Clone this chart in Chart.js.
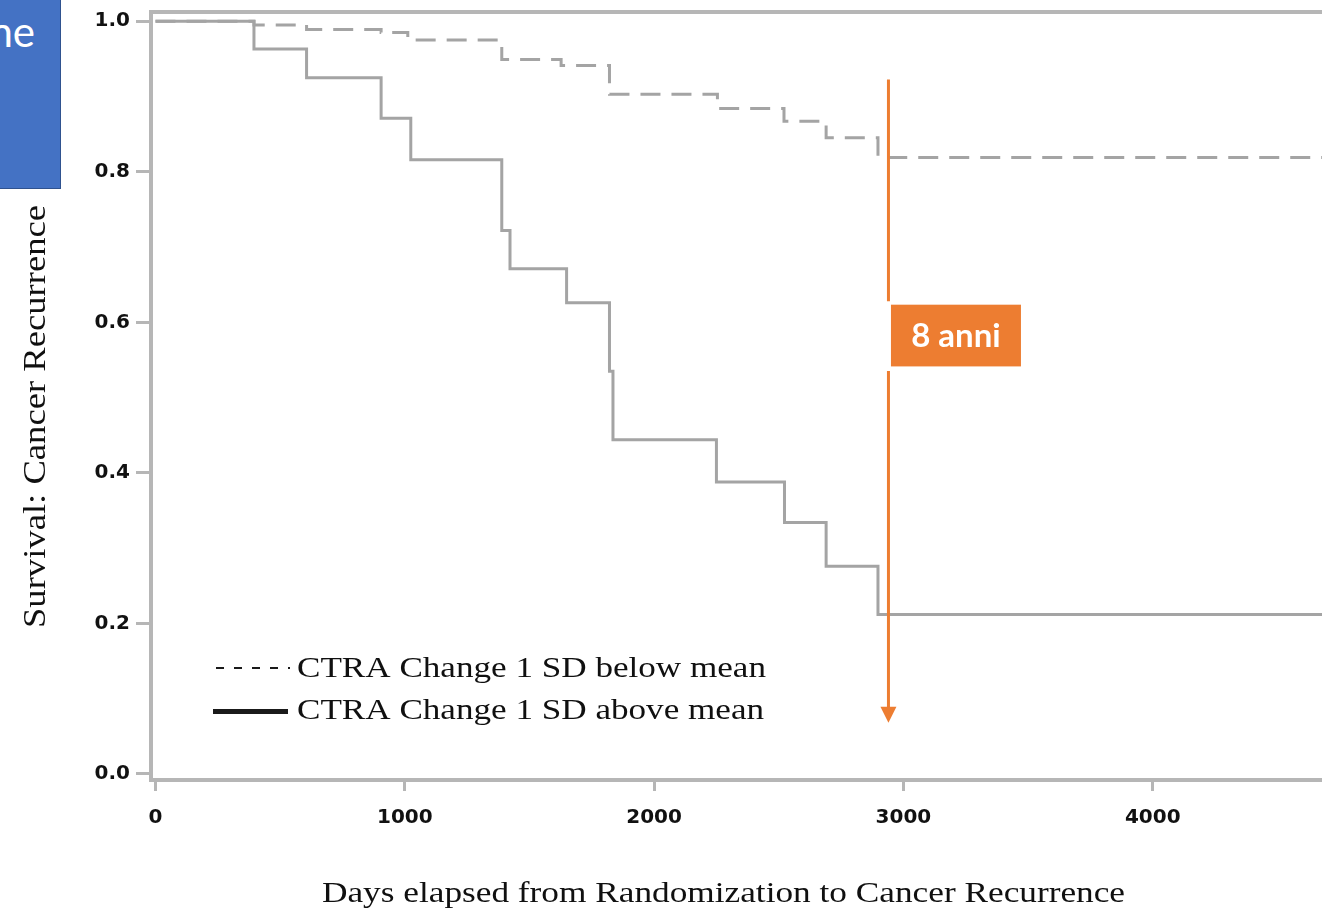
<!DOCTYPE html>
<html>
<head>
<meta charset="utf-8">
<script src="https://cdn.jsdelivr.net/npm/chart.js@4.4.1/dist/chart.umd.min.js"></script>
<style>
  html, body { margin: 0; padding: 0; background: #ffffff; overflow: hidden; }
  #wrap { position: relative; width: 1322px; height: 912px; }
  #km { position: absolute; left: 0; top: 0; }
  #tag {
    position: absolute; left: -2px; top: -2px; width: 62px; height: 190px;
    background: #4472C4; border-right: 1.5px solid #2F528F; border-bottom: 1.5px solid #2F528F;
    overflow: hidden; z-index: 2;
  }
  #tag span {
    position: absolute; right: 25px; top: 12px; color: #ffffff;
    font: 42px/1 Lato, "Open Sans", sans-serif; white-space: nowrap;
  }
</style>
</head>
<body>
<div id="wrap">
  <div id="tag"><span>ne</span></div>
  <canvas id="km" width="1322" height="912"></canvas>
</div>
<script>
// Kaplan-Meier estimates: day of each step and the survival level from that day on
const belowMeanDays     = [0, 395, 606, 905, 1012, 1389, 1627, 1821, 2254, 2521, 2690, 2898, 4700];
const belowMeanSurvival = [1.0, 0.995, 0.989, 0.985, 0.975, 0.949, 0.941, 0.903, 0.884, 0.867, 0.845, 0.819, 0.819];

const aboveMeanDays     = [0, 395, 606, 905, 1024, 1389, 1422, 1649, 1821, 1835, 2250, 2523, 2690, 2898, 4700];
const aboveMeanSurvival = [1.0, 0.963, 0.925, 0.871, 0.816, 0.722, 0.671, 0.626, 0.535, 0.444, 0.388, 0.334, 0.276, 0.212, 0.212];

const seriesLabels = ['CTRA Change 1 SD below mean', 'CTRA Change 1 SD above mean'];

const xTickValues = [0, 1000, 2000, 3000, 4000];
const yTickValues = [0, 0.2, 0.4, 0.6, 0.8, 1.0];

const xTitle = 'Days elapsed from Randomization to Cancer Recurrence';
const yTitle = 'Survival: Cancer Recurrence';

// eight-year marker
const markerDay = 2940;
const markerLabel = '8 anni';

const AXIS_GREY = '#b6b6b6';
const CURVE_GREY = '#a4a4a4';
const ORANGE = '#ED7D31';
const SERIF = '"Liberation Serif", serif';

function toPoints(xs, ys) {
  return xs.map((x, i) => ({ x: x, y: ys[i] }));
}

// draws text horizontally scaled to a given width
function fitText(ctx, text, x, y, width, align) {
  const w = ctx.measureText(text).width;
  ctx.save();
  ctx.translate(x, y);
  ctx.scale(width / w, 1);
  ctx.textAlign = align;
  ctx.fillText(text, 0, 0);
  ctx.restore();
}

const titlesAndLegend = {
  id: 'titlesAndLegend',
  afterDraw(chart) {
    const ctx = chart.ctx;
    ctx.save();
    ctx.fillStyle = '#101010';
    ctx.textBaseline = 'alphabetic';

    // x-axis title
    ctx.font = '30px ' + SERIF;
    fitText(ctx, xTitle, 723.5, 902, 803, 'center');

    // y-axis title, rotated
    ctx.save();
    ctx.translate(45, 416.5);
    ctx.rotate(-Math.PI / 2);
    ctx.font = '32px ' + SERIF;
    fitText(ctx, yTitle, 0, 0, 423, 'center');
    ctx.restore();

    // legend inside the plot
    ctx.font = '29px ' + SERIF;
    const sx = 469 / ctx.measureText(seriesLabels[0]).width;
    const rows = [677, 718.5];
    chart.data.datasets.forEach((ds, i) => {
      const base = rows[i];
      const mid = base - 5;
      ctx.save();
      ctx.strokeStyle = '#1a1a1a';
      ctx.beginPath();
      if (ds.borderDash && ds.borderDash.length) {
        ctx.lineWidth = 2;
        ctx.setLineDash([8, 10]);
        ctx.moveTo(216, mid - 4);
        ctx.lineTo(290, mid - 4);
      } else {
        ctx.lineWidth = 5;
        ctx.moveTo(213, mid - 2);
        ctx.lineTo(288, mid - 2);
      }
      ctx.stroke();
      ctx.restore();
      ctx.save();
      ctx.translate(297, base);
      ctx.scale(sx, 1);
      ctx.textAlign = 'left';
      ctx.fillText(ds.label, 0, 0);
      ctx.restore();
    });
    ctx.restore();
  }
};

const eightYearMarker = {
  id: 'eightYearMarker',
  afterDatasetsDraw(chart) {
    const ctx = chart.ctx;
    const xs = chart.scales.x, ys = chart.scales.y;
    const px = xs.getPixelForValue(markerDay);
    const top = ys.getPixelForValue(0.9225);
    const tip = ys.getPixelForValue(0.068);
    const boxTop = ys.getPixelForValue(0.6234);
    const boxBottom = ys.getPixelForValue(0.5414);
    const head = 16;

    ctx.save();
    ctx.strokeStyle = ORANGE;
    ctx.fillStyle = ORANGE;
    ctx.lineWidth = 3;
    ctx.beginPath();
    ctx.moveTo(px, top);
    ctx.lineTo(px, boxTop - 3.5);
    ctx.moveTo(px, boxBottom + 4.5);
    ctx.lineTo(px, tip - head + 1);
    ctx.stroke();

    ctx.beginPath();
    ctx.moveTo(px - 8, tip - head);
    ctx.lineTo(px + 8, tip - head);
    ctx.lineTo(px, tip);
    ctx.closePath();
    ctx.fill();

    const boxLeft = px + 2.5;
    const boxWidth = 130;
    ctx.fillRect(boxLeft, boxTop, boxWidth, boxBottom - boxTop);
    ctx.fillStyle = '#ffffff';
    ctx.font = 'bold 33px Lato, "Open Sans", sans-serif';
    ctx.textAlign = 'center';
    ctx.textBaseline = 'middle';
    ctx.fillText(markerLabel, boxLeft + boxWidth / 2, (boxTop + boxBottom) / 2 + 1);
    ctx.restore();
  }
};

const tickFont = { family: '"DejaVu Sans", sans-serif', size: 20, weight: 'bold' };

new Chart(document.getElementById('km'), {
  type: 'line',
  data: {
    datasets: [
      {
        label: seriesLabels[0],
        data: toPoints(belowMeanDays, belowMeanSurvival),
        borderColor: CURVE_GREY,
        borderWidth: 3,
        borderDash: [20, 11],
        stepped: 'before',
        pointRadius: 0,
        fill: false
      },
      {
        label: seriesLabels[1],
        data: toPoints(aboveMeanDays, aboveMeanSurvival),
        borderColor: CURVE_GREY,
        borderWidth: 3,
        stepped: 'before',
        pointRadius: 0,
        fill: false
      }
    ]
  },
  options: {
    responsive: false,
    animation: false,
    events: [],
    layout: { autoPadding: false, padding: 0 },
    plugins: { legend: { display: false }, tooltip: { enabled: false } },
    scales: {
      x: {
        type: 'linear',
        position: 'bottom',
        min: -18,
        max: 4679,
        afterBuildTicks: s => { s.ticks = xTickValues.map(v => ({ value: v })); },
        afterFit: s => { s.height = 132; s.paddingLeft = 0; s.paddingRight = 0; },
        ticks: {
          font: tickFont, color: '#111111', padding: 15,
          maxRotation: 0, autoSkip: false,
          callback: v => String(v)
        },
        grid: { drawOnChartArea: false, drawTicks: true, tickLength: 11, tickWidth: 3, tickColor: AXIS_GREY },
        border: { display: true, color: AXIS_GREY, width: 4 }
      },
      xTop: {
        type: 'linear',
        position: 'top',
        min: -18,
        max: 4679,
        afterFit: s => { s.height = 12; s.paddingLeft = 0; s.paddingRight = 0; },
        ticks: { display: false },
        grid: { display: false },
        border: { display: true, color: AXIS_GREY, width: 4 }
      },
      y: {
        type: 'linear',
        min: -0.008,
        max: 1.0122,
        afterBuildTicks: s => { s.ticks = yTickValues.map(v => ({ value: v })); },
        afterFit: s => { s.width = 151; s.paddingTop = 0; s.paddingBottom = 0; },
        ticks: {
          font: tickFont, color: '#111111', padding: 6,
          callback: v => v.toFixed(1)
        },
        grid: { drawOnChartArea: false, drawTicks: true, tickLength: 15, tickWidth: 3, tickColor: AXIS_GREY },
        border: { display: true, color: AXIS_GREY, width: 4 }
      }
    }
  },
  plugins: [eightYearMarker, titlesAndLegend]
});
</script>
</body>
</html>
